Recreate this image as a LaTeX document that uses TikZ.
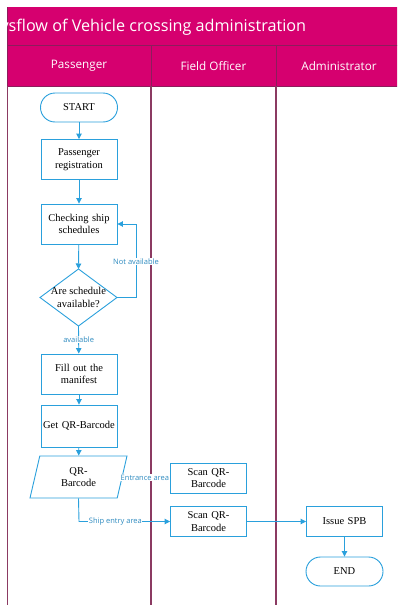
\documentclass[tikz,border=0pt]{standalone}
\usepackage{fontspec}
\setmainfont{Liberation Serif}
\newfontfamily\hdr{Open Sans}
\usetikzlibrary{shapes.geometric,arrows.meta}
\definecolor{hpink}{HTML}{D6006F}
\definecolor{hline}{HTML}{8C1D5C}
\definecolor{lane}{HTML}{8B3A62}
\definecolor{fblue}{HTML}{2AA0DC}
\definecolor{lblue}{HTML}{2E8BC0}
\tikzset{
  x=1pt,y=-1pt,
  box/.style={draw=fblue,line width=0.9pt,fill=white,minimum width=76pt,minimum height=40pt,inner sep=1pt,align=center,font=\fontsize{10.5}{12.5}\selectfont,text width=72pt},
  sbox/.style={box,minimum height=30pt},
  term/.style={draw=fblue,line width=0.9pt,fill=white,minimum width=77pt,minimum height=29pt,rounded corners=14.5pt,font=\fontsize{10.5}{12.5}\selectfont},
  dectext/.style={inner sep=0pt,align=center,font=\fontsize{10.5}{12.5}\selectfont},
  decshape/.style={draw=fblue,line width=0.9pt,fill=white},
  io/.style={draw=fblue,line width=0.9pt,fill=white,trapezium,trapezium left angle=63.4,trapezium right angle=116.6,trapezium stretches body,minimum width=97pt,minimum height=42pt,inner sep=0pt,align=center,font=\fontsize{10.5}{12.5}\selectfont},
  conn/.style={draw=fblue,line width=0.9pt,-{Triangle[length=5.5pt,width=5.5pt]}},
  lbl/.style={text=lblue,fill=white,inner sep=0.5pt,font=\hdr\fontsize{7.5}{9}\selectfont},
  lanel/.style={draw=lane,line width=1.5pt},
  htext/.style={text=white,font=\hdr\fontsize{11.7}{14}\selectfont}
}
\begin{document}
\begin{tikzpicture}
\useasboundingbox (0,0) rectangle (397,605);
\begin{scope}
\clip (0,0) rectangle (397,605);
% header
\fill[hpink] (7,7) rectangle (400,86);
\draw[hline,line width=0.8pt] (7,45.5) -- (400,45.5);
\draw[hline,line width=0.8pt] (7,86) -- (400,86);
\draw[hline,line width=0.8pt] (151,45.5) -- (151,86);
\draw[hline,line width=0.8pt] (276,45.5) -- (276,86);
\draw[hline,line width=0.8pt] (7.5,7) -- (7.5,86);
\node[htext,font=\hdr\fontsize{16.2}{18}\selectfont,anchor=west] (title) at (-3,27) {ysflow of Vehicle crossing administration};
\node[htext] (h1) at (79,66) {Passenger};
\node[htext] (h2) at (213.5,66) {Field Officer};
\node[htext] (h3) at (339,66) {Administrator};
% lanes
\draw[lanel] (7.5,86) -- (7.5,606);
\draw[lanel] (151,86) -- (151,606);
\draw[lanel] (276,86) -- (276,606);
\end{scope}
% nodes
\node[term] (start) at (79,107.5) {START};
\node[box] (reg) at (79,159.5) {Passenger registration};
\node[box] (chk) at (79,224) {Checking ship schedules};
% decision diamond
\coordinate (dT) at (78.5,269);
\coordinate (dB) at (78.5,326);
\coordinate (dL) at (40,297.5);
\coordinate (dR) at (117,297.5);
\path[decshape] (dT) -- (dR) -- (dB) -- (dL) -- cycle;
\node[dectext] (avail) at (78.5,297.5) {Are schedule\\available?};
\node[box] (fill) at (79,374) {Fill out the manifest};
\node[box,minimum height=42pt] (getqr) at (79,426) {Get QR-Barcode};
\node[io] (qr) at (78.5,477) {QR-\\Barcode};
\node[sbox] (scan1) at (208.5,478) {Scan QR-\\Barcode};
\node[sbox] (scan2) at (208.5,521.5) {Scan QR-\\Barcode};
\node[sbox] (spb) at (344.5,521.5) {Issue SPB};
\node[term] (end) at (344.5,571.5) {END};
% connectors
\draw[conn] (start) -- (reg);
\draw[conn] (reg) -- (chk);
\draw[conn] (chk) -- (dT);
\draw[conn] (dB) -- node[lbl,pos=0.5] {available} (fill);
\draw[conn] (fill) -- (getqr);
\draw[conn] (getqr) -- (qr);
\coordinate (na1) at (136,297.5);
\coordinate (na2) at (136,224);
\draw[conn] (dR) -- (na1) -- node[lbl,pos=0.49] {Not available} (na2) -- (chk.east);
\draw[conn] (qr.east) -- node[lbl,pos=0.47] {Entrance area} (scan1.west);
\coordinate (se) at (79,521.5);
\draw[conn] (qr.south) -- (se) -- node[lbl,pos=0.4] {Ship entry area} (scan2.west);
\draw[conn] (scan2) -- (spb);
\draw[conn] (spb) -- (end);
\end{tikzpicture}
\end{document}
